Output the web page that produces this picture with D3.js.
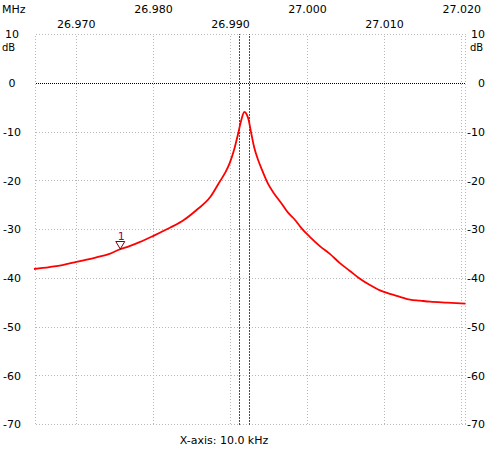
<!DOCTYPE html>
<html><head><meta charset="utf-8">
<script src="https://cdn.jsdelivr.net/npm/d3@7"></script>
<style>body{margin:0;background:#fff}svg{display:block}text{font-family:"DejaVu Sans",Verdana,sans-serif;font-size:11px;fill:#000}</style>
</head><body><svg id="c" width="500" height="460"></svg>
<script>
// Data
const freqMHz = [26.9645,26.9665,26.9682,26.9700,26.9726,26.9743,26.9756,26.9769,26.9782,26.9800,26.9822,26.9839,26.9856,26.9874,26.9886,26.9893,26.9899,26.9905,26.9910,26.9914,26.9918,26.9923,26.9927,26.9931,26.9936,26.9940,26.9949,26.9957,26.9966,26.9975,26.9983,26.9992,27.0003,27.0016,27.0029,27.0042,27.0055,27.0068,27.0081,27.0094,27.0107,27.0120,27.0133,27.0146,27.0159,27.0181,27.0205];
const levelDb = [-38.1,-37.7,-37.3,-36.65,-35.7,-35.0,-34.1,-33.4,-32.6,-31.3,-29.6,-28.1,-26.0,-23.3,-20.2,-18.4,-16.4,-13.5,-10.3,-7.6,-5.9,-7.2,-10.3,-13.3,-15.8,-17.4,-20.7,-22.7,-24.6,-26.6,-27.9,-29.7,-31.5,-33.4,-35.0,-36.9,-38.5,-40.1,-41.4,-42.5,-43.2,-43.8,-44.4,-44.6,-44.8,-45.0,-45.2];
const xTicks = [26.970,26.980,26.990,27.000,27.010,27.020];
const yTicks = [10,0,-10,-20,-30,-40,-50,-60,-70];
const cursorFreqs = [26.99117,26.99247];
const markerLabels = ["1"];
const markerFreqs = [26.9757];
const markerDb = [-34.0];
const xDomain = [26.9647, 27.0205];
const yDomain = [-70, 10];

const svg = d3.select("#c");
const L=35.5, R=465.5, T=34.5, B=424.5;
const x = d3.scaleLinear().domain(xDomain).range([L,R]);
const y = d3.scaleLinear().domain(yDomain).range([B,T]);
const px = v => Math.round(v-0.5);

// dotted patterns
const defs = svg.append("defs");
function pat(id, color, on, period, vertical){
  const p = defs.append("pattern").attr("id",id).attr("patternUnits","userSpaceOnUse")
    .attr("width", vertical?1:period).attr("height", vertical?period:1);
  p.append("rect").attr("width", vertical?1:on).attr("height", vertical?on:1).attr("fill",color);
}
pat("gv","#b8b8b8",1,3,true);
pat("gh","#b8b8b8",1,3,false);
pat("kh","#000000",1,2,false);
pat("rv","#ff0000",2,3,true);

const g = svg.append("g").attr("shape-rendering","crispEdges");
const vx = [xDomain[0], ...xTicks, xDomain[1]];
g.selectAll("rect.vg").data(vx).join("rect").attr("class","vg")
  .attr("x",d=>px(x(d))).attr("width",1)
  .attr("y",Math.floor(T)).attr("height",Math.round(B-T)+1)
  .attr("fill","url(#gv)");
g.selectAll("rect.hg").data(yTicks).join("rect").attr("class","hg")
  .attr("y",d=>px(y(d))).attr("height",1)
  .attr("x",Math.floor(L)).attr("width",Math.round(R-L)+1)
  .attr("fill",d=>d===0?"url(#kh)":"url(#gh)");
g.selectAll("rect.cur").data(cursorFreqs).join("rect").attr("class","cur")
  .attr("x",d=>px(x(d))).attr("width",1)
  .attr("y",Math.floor(T)).attr("height",Math.round(B-T)+1)
  .attr("fill","url(#rv)");

// trace
const pts = freqMHz.map((f,i)=>[f,levelDb[i]]);
svg.append("path").datum(pts)
  .attr("d", d3.line().x(d=>x(d[0])).y(d=>y(d[1])).curve(d3.curveMonotoneX))
  .attr("fill","none").attr("stroke","#ff0000").attr("stroke-width",1.8);

// markers
markerFreqs.forEach((f,i)=>{
  const mx=x(f), my=y(markerDb[i]);
  svg.append("path").attr("d",`M${mx-4.5},${my-7.5}L${mx+4.5},${my-7.5}L${mx},${my}Z`)
    .attr("fill","none").attr("stroke","#800000").attr("stroke-width",1);
  svg.append("text").attr("x",mx+1).attr("y",my-12.5).attr("dy","0.35em").attr("text-anchor","middle")
    .style("fill","#990066").text(markerLabels[i]);
});

// y labels
const lab = svg.append("g");
lab.selectAll("text.yl").data(yTicks).join("text").attr("class","yl")
  .attr("x",12).attr("y",d=>y(d)).attr("dy","0.35em").attr("text-anchor","middle").text(d=>d);
lab.selectAll("text.yr").data(yTicks).join("text").attr("class","yr")
  .attr("x",485).attr("y",d=>y(d)).attr("dy","0.35em").attr("text-anchor","end").text(d=>d);
lab.append("text").attr("x",2).attr("y",y(10)+13).attr("dy","0.35em").style("font-size","10px").text("dB");
lab.append("text").attr("x",470).attr("y",y(10)+13).attr("dy","0.35em").style("font-size","10px").text("dB");
// x labels (two rows, alternating)
lab.selectAll("text.xl").data(xTicks).join("text").attr("class","xl")
  .attr("x",d=>x(d)).attr("y",(d,i)=>i%2===0?24:9).attr("dy","0.35em").attr("text-anchor","middle")
  .text(d=>d3.format(".3f")(d));
lab.append("text").attr("x",2).attr("y",9).attr("dy","0.35em").text("MHz");
lab.append("text").attr("x",224).attr("y",440).attr("dy","0.35em").attr("text-anchor","middle").text("X-axis: 10.0 kHz");
</script></body></html>
